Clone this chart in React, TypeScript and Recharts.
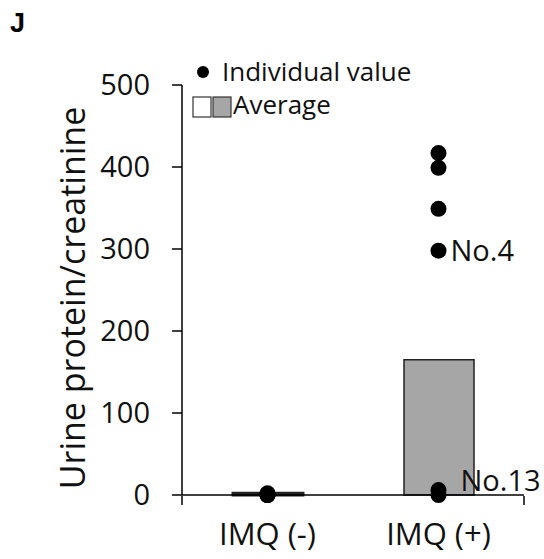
import { ComposedChart, Bar, Line, XAxis, YAxis, Cell, LabelList } from "recharts"

// categories and readings taken off the figure
const categories = ["IMQ (-)", "IMQ (+)"]
const averages = [2, 165]
const individualsNeg = [2, 1, 1, 0, 0, 0]
const individualsPos = [417, 399, 349, 298, 6, 0]
const pointTags = [
  ["", "", "", "", "", ""],
  ["", "", "", "No.4", "No.13", ""],
]
const yTicks = [0, 100, 200, 300, 400, 500]

const barFills = ["#ffffff", "#a6a6a6"]
const font = "'Open Sans', sans-serif"

const rows = categories.map((cat, i) => {
  const vals = i === 0 ? individualsNeg : individualsPos
  const row: any = { cat, avg: averages[i] }
  vals.forEach((v, k) => (row["p" + k] = v))
  return row
})
const pointKeys = individualsPos.map((_, k) => "p" + k)
const edgeTicks = categories.map((_, i) => i).concat(categories.length)

const renderTag = (k: number) => (props: any) => {
  const { x, y, index } = props
  const tag = pointTags[index]?.[k]
  if (!tag) return null
  const up = tag === "No.13"
  return (
    <text x={x + (up ? 22 : 12)} y={y + (up ? -9 : 0)} dy="0.35em" fontSize={29} fill="#111" fontFamily={font}>
      {tag}
    </text>
  )
}

function LegendBox() {
  return (
    <svg width={260} height={70} style={{ position: "absolute", left: 190, top: 55, overflow: "visible" }}>
      <circle cx={13} cy={17} r={6} fill="#000" />
      <text x={32} y={17} dy="0.35em" fontSize={26} fontFamily={font} fill="#111">Individual value</text>
      <rect x={3} y={42} width={18} height={20} fill="#fff" stroke="#333" strokeWidth={1.2} />
      <rect x={23} y={42} width={18} height={20} fill="#a6a6a6" stroke="#333" strokeWidth={1.2} />
      <text x={43} y={50} dy="0.35em" fontSize={26} fontFamily={font} fill="#111">Average</text>
    </svg>
  )
}

export default function App() {
  return (
    <div style={{ position: "absolute", left: 0, top: 0, width: 544, height: 559, background: "#fff" }}>
      <div style={{ position: "absolute", left: 10, top: 8, fontFamily: "'Liberation Sans', Arial, sans-serif", fontWeight: "bold", fontSize: 27 }}>J</div>
      <ComposedChart width={544} height={559} data={rows} margin={{ top: 85, right: 20, bottom: 0, left: 0 }} barSize={70}>
        <XAxis
          dataKey="cat"
          xAxisId="cat"
          height={1}
          axisLine={{ stroke: "#000", strokeWidth: 1.5 }}
          tickLine={false}
          tickMargin={22}
          tick={{ fontSize: 31, fill: "#111", fontFamily: font }}
        />
        <XAxis
          xAxisId="edge"
          type="number"
          domain={[0, categories.length]}
          ticks={edgeTicks}
          interval={0}
          axisLine={false}
          tick={() => <g />}
          tickSize={9}
          tickLine={{ stroke: "#000", strokeWidth: 1.5 }}
          height={63}
        />
        <YAxis
          domain={[0, 500]}
          ticks={yTicks}
          width={182}
          interval={0}
          axisLine={{ stroke: "#000", strokeWidth: 1.5 }}
          tickLine={{ stroke: "#000", strokeWidth: 1.5 }}
          tickSize={10}
          tickMargin={22}
          tick={{ fontSize: 29, fill: "#111", fontFamily: font }}
          label={({ viewBox }: any) => (
            <text
              x={viewBox.x + 72}
              y={viewBox.y + viewBox.height / 2 + 8}
              transform={`rotate(-90, ${viewBox.x + 72}, ${viewBox.y + viewBox.height / 2 + 8})`}
              textAnchor="middle"
              dominantBaseline="central"
              fontSize={34}
              fontFamily={font}
              fill="#111"
            >
              Urine protein/creatinine
            </text>
          )}
        />
        <Bar dataKey="avg" xAxisId="cat" isAnimationActive={false} stroke="#222" strokeWidth={1.5}>
          {rows.map((r, i) => (
            <Cell key={r.cat} fill={barFills[i]} strokeWidth={i === 0 ? 3 : 1.5} />
          ))}
        </Bar>
        {pointKeys.map((key, k) => (
          <Line
            key={key}
            xAxisId="cat"
            dataKey={key}
            stroke="none"
            isAnimationActive={false}
            dot={{ r: 8, fill: "#000", stroke: "none" }}
            activeDot={false}
            legendType="none"
          >
            <LabelList dataKey={key} content={renderTag(k)} />
          </Line>
        ))}
      </ComposedChart>
      <LegendBox />
    </div>
  )
}
